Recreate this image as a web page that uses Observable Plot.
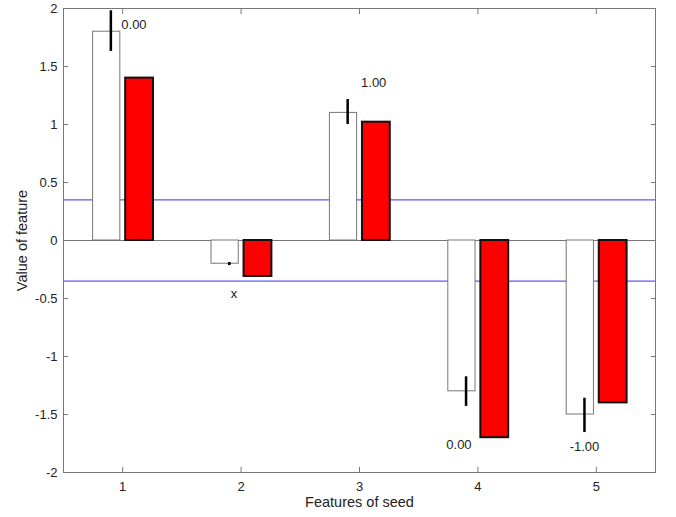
<!DOCTYPE html>
<html><head><meta charset="utf-8">
<script src="https://cdn.jsdelivr.net/npm/d3@7"></script>
<script src="https://cdn.jsdelivr.net/npm/@observablehq/plot@0.6"></script>
<style>body{margin:0;background:#fff;} svg{font-family:"Liberation Sans",Arial,sans-serif;}</style>
</head><body><div id="chart"></div>
<script>
const features = [1, 2, 3, 4, 5];
const whiteValues = [1.8, -0.2, 1.1, -1.3, -1.5];
const redValues = [1.4, -0.31, 1.02, -1.7, -1.4];
const errLow = [1.63, -0.21, 1.0, -1.43, -1.655];
const errHigh = [1.98, -0.19, 1.215, -1.175, -1.36];
const labelTexts = ["0.00", "x", "1.00", "0.00", "-1.00"];
const labelX = [1.095, 1.94, 3.12, 3.84, 4.9];
const labelY = [1.86, -0.46, 1.36, -1.76, -1.78];
const thresholds = [0.35, -0.35];
const yTicks = [-2, -1.5, -1, -0.5, 0, 0.5, 1, 1.5, 2];
const xTicks = [1, 2, 3, 4, 5];

const data = features.map((f, i) => ({f, w: whiteValues[i], r: redValues[i], lo: errLow[i], hi: errHigh[i]}));
const labels = features.map((f, i) => ({x: labelX[i], y: labelY[i], t: labelTexts[i]}));
const fmt = d => String(d);

const chart = Plot.plot({
  width: 676, height: 517,
  marginLeft: 63, marginRight: 21, marginTop: 8, marginBottom: 45,
  style: {fontFamily: "Liberation Sans, Arial, sans-serif", fontSize: "13px", color: "#222"},
  x: {domain: [0.5, 5.5]},
  y: {domain: [-2, 2]},
  marks: [
    Plot.ruleY(thresholds, {stroke: "#3333ee", strokeWidth: 1}),
    Plot.ruleY([0], {stroke: "#777", strokeWidth: 1}),
    Plot.rectY(data, {x1: d => d.f - 0.25, x2: d => d.f - 0.02, y1: 0, y2: "w", fill: "white", stroke: "#777", strokeWidth: 1}),
    Plot.rectY(data, {x1: d => d.f + 0.025, x2: d => d.f + 0.26, y1: 0, y2: "r", fill: "#ff0000", stroke: "#111", strokeWidth: 2}),
    Plot.ruleX(data, {x: d => d.f - 0.1, y1: "lo", y2: "hi", stroke: "#000", strokeWidth: 2.5}),
    Plot.dot(data.filter(d => d.f === 2), {x: d => d.f - 0.1, y: "w", r: 1.5, fill: "#000"}),
    Plot.text(labels, {x: "x", y: "y", text: "t", fontSize: 13, fill: "#222"}),
    Plot.frame({stroke: "#777"}),
    Plot.axisY(yTicks, {anchor: "left", tickSize: 0, tickPadding: 6, tickFormat: fmt, label: null, fontSize: 13}),
    Plot.axisY(yTicks, {anchor: "left", tickSize: -5, tickFormat: () => "", label: null, stroke: "#777"}),
    Plot.axisY(yTicks, {anchor: "right", tickSize: -5, tickFormat: () => "", label: null, stroke: "#777"}),
    Plot.axisX(xTicks, {anchor: "bottom", tickSize: 0, tickPadding: 9, tickFormat: fmt, label: null, fontSize: 13}),
    Plot.axisX(xTicks, {anchor: "bottom", tickSize: -5, tickFormat: () => "", label: null, stroke: "#777"}),
    Plot.axisX(xTicks, {anchor: "top", tickSize: -5, tickFormat: () => "", label: null, stroke: "#777"}),
    Plot.text(["Features of seed"], {frameAnchor: "bottom", textAnchor: "middle", dy: 34, fontSize: 14.5, fill: "#222"}),
    Plot.text(["Value of feature"], {frameAnchor: "left", textAnchor: "middle", dx: -41, rotate: -90, fontSize: 14.5, fill: "#222"})
  ]
});
document.getElementById("chart").appendChild(chart);
</script></body></html>
